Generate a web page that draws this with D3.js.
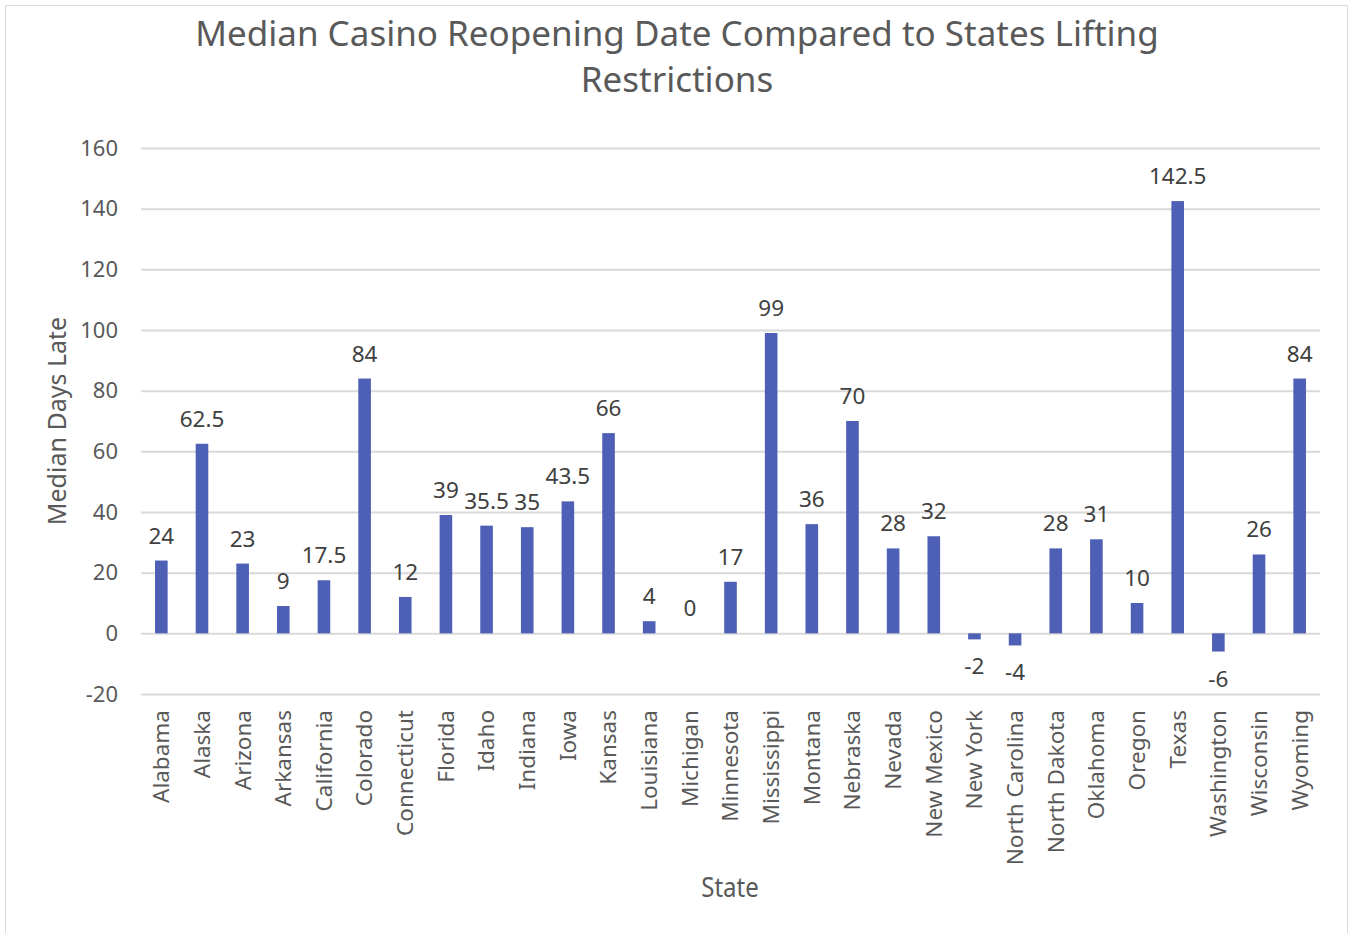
<!DOCTYPE html>
<html>
<head>
<meta charset="utf-8">
<script src="https://cdn.jsdelivr.net/npm/d3@7"></script>
<style>
  html, body { margin: 0; padding: 0; background: #fff; }
  svg { display: block; }
  text { font-family: "Noto Sans", "Open Sans", sans-serif; }
</style>
</head>
<body>
<svg id="chart" width="1351" height="933"></svg>
<script>
// Median days casinos reopened after each state lifted restrictions
const states = ["Alabama", "Alaska", "Arizona", "Arkansas", "California", "Colorado",
  "Connecticut", "Florida", "Idaho", "Indiana", "Iowa", "Kansas", "Louisiana", "Michigan",
  "Minnesota", "Mississippi", "Montana", "Nebraska", "Nevada", "New Mexico", "New York",
  "North Carolina", "North Dakota", "Oklahoma", "Oregon", "Texas", "Washington",
  "Wisconsin", "Wyoming"];
const medianDaysLate = [24, 62.5, 23, 9, 17.5, 84, 12, 39, 35.5, 35, 43.5, 66, 4, 0,
  17, 99, 36, 70, 28, 32, -2, -4, 28, 31, 10, 142.5, -6, 26, 84];
const yTicks = [-20, 0, 20, 40, 60, 80, 100, 120, 140, 160];

const titleLines = ["Median Casino Reopening Date Compared to States Lifting", "Restrictions"];
const yTitle = "Median Days Late";
const xTitle = "State";

const plot = { left: 141, right: 1320, top: 148, bottom: 694 };
const fmt = v => String(v);   // plain hyphen for negatives

const svg = d3.select("#chart");

// chart frame
svg.append("rect")
  .attr("x", 5.5).attr("y", 5.5)
  .attr("width", 1342).attr("height", 940)
  .attr("fill", "#fff").attr("stroke", "#d9d9d9").attr("stroke-width", 1);

const x = d3.scaleBand().domain(states).range([plot.left, plot.right]).padding(0);
const y = d3.scaleLinear().domain([-20, 160]).range([plot.bottom, plot.top]);

// gridlines + y tick labels
const yAxis = d3.axisLeft(y).tickValues(yTicks).tickFormat(fmt)
  .tickSize(-(plot.right - plot.left)).tickPadding(23);
const gy = svg.append("g").attr("transform", `translate(${plot.left},0)`).call(yAxis);
gy.select(".domain").remove();
gy.selectAll(".tick line").attr("stroke", "#d9d9d9").attr("stroke-width", 2);
gy.selectAll(".tick text")
  .attr("fill", "#595959").attr("font-size", 22)
  .style("font-family", '"Noto Sans", sans-serif');

const rows = states.map((s, i) => ({ s, v: medianDaysLate[i] }));

// bars
const barW = x.bandwidth() * 0.31;
svg.append("g").selectAll("rect")
  .data(rows)
  .join("rect")
  .attr("x", d => x(d.s) + x.bandwidth() / 2 - barW / 2)
  .attr("width", barW)
  .attr("y", d => y(Math.max(0, d.v)))
  .attr("height", d => Math.abs(y(d.v) - y(0)))
  .attr("fill", "#4e5fb6");

// value labels
svg.append("g").selectAll("text")
  .data(rows)
  .join("text")
  .attr("x", d => x(d.s) + x.bandwidth() / 2)
  .attr("y", d => d.v >= 0 ? y(d.v) - 17 : y(d.v) + 35)
  .attr("text-anchor", "middle")
  .attr("fill", "#404040").attr("font-size", 22.5)
  .text(d => fmt(d.v));

// category labels (rotated)
const gx = svg.append("g").attr("transform", `translate(0,${plot.bottom})`)
  .call(d3.axisBottom(x).tickSize(0).tickPadding(0));
gx.select(".domain").remove();
gx.selectAll(".tick text")
  .attr("transform", "rotate(-90)")
  .attr("x", -16).attr("y", 0).attr("dy", "0.35em")
  .attr("text-anchor", "end")
  .attr("fill", "#595959").attr("font-size", 22.5)
  .style("font-family", '"Noto Sans", sans-serif');

// title
svg.append("g").selectAll("text").data(titleLines).join("text")
  .attr("x", 677).attr("y", (d, i) => 46 + i * 46)
  .attr("text-anchor", "middle").attr("fill", "#595959").attr("font-size", 35)
  .text(d => d);

// axis titles
svg.append("text")
  .attr("transform", `translate(66,${(plot.top + plot.bottom) / 2}) rotate(-90)`)
  .attr("text-anchor", "middle").attr("fill", "#595959").attr("font-size", 25)
  .text(yTitle);

svg.append("g").attr("transform", "translate(730,0) scale(1,1.15)")
  .append("text")
  .attr("x", 0).attr("y", 897 / 1.15)
  .attr("text-anchor", "middle").attr("fill", "#595959").attr("font-size", 24)
  .text(xTitle);
</script>
</body>
</html>
